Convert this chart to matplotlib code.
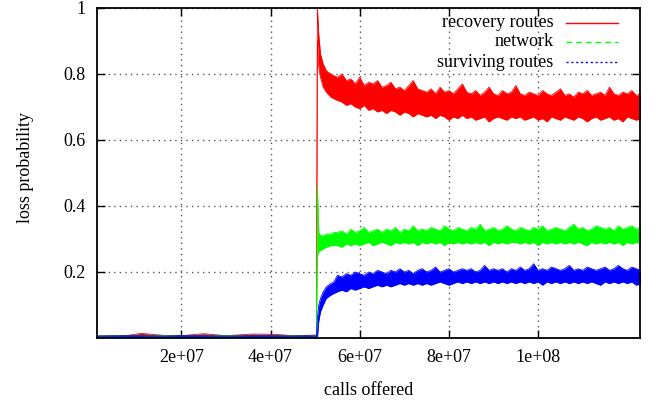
import matplotlib
matplotlib.use("Agg")
import matplotlib.pyplot as plt
import numpy as np

# calls offered, in millions of calls (envelope sample points)
calls = [1.1, 8, 11, 16, 20, 25, 30, 36, 41, 45, 48, 50.3,
         50.5, 50.8, 51.2, 51.8, 52.5, 53.5, 54.2,
         55, 56, 57, 58, 59, 60, 61, 62, 63, 64,
         65, 66, 67, 68, 69, 70, 71, 72, 73, 74,
         75, 76, 77, 78, 79, 80, 81, 82, 83, 84,
         85, 86, 87, 88, 89, 90, 91, 92, 93, 94,
         95, 96, 97, 98, 99, 100, 101, 102, 103, 104,
         105, 106, 107, 108, 109, 110, 111, 112, 113, 114,
         115, 116, 117, 118, 119, 120, 121, 122, 123]

# loss probability: upper and lower edge of each noisy trace
recovery_hi = [0.006, 0.008, 0.014, 0.008, 0.007, 0.013, 0.007, 0.012, 0.011, 0.007, 0.008, 0.009,
               1.0, 0.92, 0.86, 0.83, 0.81, 0.80, 0.795,
               0.79, 0.80, 0.78, 0.785, 0.77, 0.79, 0.765, 0.775, 0.77, 0.78,
               0.76, 0.765, 0.775, 0.755, 0.76, 0.75, 0.765, 0.78, 0.755, 0.75,
               0.745, 0.755, 0.74, 0.76, 0.745, 0.75, 0.74, 0.755, 0.77, 0.745,
               0.74, 0.75, 0.735, 0.745, 0.76, 0.74, 0.735, 0.75, 0.74, 0.745,
               0.765, 0.74, 0.735, 0.745, 0.74, 0.735, 0.75, 0.74, 0.735, 0.745,
               0.755, 0.735, 0.74, 0.73, 0.745, 0.74, 0.75, 0.735, 0.74, 0.745,
               0.735, 0.76, 0.74, 0.735, 0.745, 0.74, 0.75, 0.735, 0.74]
recovery_lo = [0.003, 0.003, 0.004, 0.003, 0.003, 0.004, 0.003, 0.003, 0.004, 0.003, 0.003, 0.003,
               0.90, 0.82, 0.79, 0.76, 0.745, 0.73, 0.725,
               0.72, 0.715, 0.705, 0.71, 0.70, 0.695, 0.705, 0.69, 0.695, 0.685,
               0.69, 0.68, 0.69, 0.685, 0.675, 0.685, 0.68, 0.67, 0.68, 0.675,
               0.67, 0.675, 0.665, 0.675, 0.67, 0.66, 0.67, 0.665, 0.675, 0.665,
               0.67, 0.66, 0.665, 0.67, 0.655, 0.665, 0.67, 0.665, 0.66, 0.67,
               0.665, 0.67, 0.66, 0.665, 0.67, 0.66, 0.665, 0.655, 0.67, 0.665,
               0.66, 0.67, 0.665, 0.66, 0.67, 0.665, 0.655, 0.665, 0.67, 0.66,
               0.665, 0.67, 0.66, 0.665, 0.655, 0.67, 0.665, 0.66, 0.665]

network_hi = [0.006, 0.007, 0.008, 0.007, 0.006, 0.008, 0.007, 0.007, 0.008, 0.006, 0.007, 0.007,
              0.46, 0.32, 0.31, 0.31, 0.315, 0.315, 0.32,
              0.32, 0.325, 0.315, 0.33, 0.32, 0.325, 0.335, 0.32, 0.325, 0.33,
              0.32, 0.33, 0.325, 0.335, 0.32, 0.33, 0.325, 0.34, 0.325, 0.33,
              0.325, 0.335, 0.33, 0.325, 0.34, 0.33, 0.325, 0.335, 0.33, 0.325,
              0.335, 0.33, 0.345, 0.325, 0.33, 0.335, 0.325, 0.33, 0.34, 0.33,
              0.325, 0.335, 0.33, 0.325, 0.335, 0.33, 0.34, 0.325, 0.33, 0.335,
              0.33, 0.325, 0.335, 0.345, 0.33, 0.335, 0.325, 0.33, 0.34, 0.335,
              0.33, 0.335, 0.325, 0.34, 0.33, 0.335, 0.34, 0.33, 0.335]
network_lo = [0.003, 0.003, 0.003, 0.003, 0.003, 0.003, 0.003, 0.003, 0.003, 0.003, 0.003, 0.003,
              0.25, 0.26, 0.265, 0.27, 0.275, 0.28, 0.28,
              0.28, 0.275, 0.285, 0.28, 0.285, 0.28, 0.285, 0.29, 0.28, 0.285,
              0.29, 0.285, 0.28, 0.29, 0.285, 0.29, 0.285, 0.29, 0.28, 0.29,
              0.285, 0.29, 0.285, 0.29, 0.28, 0.29, 0.285, 0.29, 0.285, 0.29,
              0.285, 0.29, 0.285, 0.29, 0.28, 0.29, 0.285, 0.29, 0.285, 0.29,
              0.29, 0.285, 0.29, 0.285, 0.29, 0.28, 0.29, 0.285, 0.29, 0.285,
              0.29, 0.285, 0.29, 0.285, 0.29, 0.285, 0.28, 0.29, 0.285, 0.29,
              0.285, 0.29, 0.285, 0.29, 0.28, 0.29, 0.285, 0.29, 0.285]

surviving_hi = [0.006, 0.007, 0.007, 0.006, 0.007, 0.007, 0.006, 0.007, 0.007, 0.006, 0.007, 0.006,
                0.06, 0.10, 0.12, 0.14, 0.155, 0.165, 0.17,
                0.19, 0.185, 0.195, 0.19, 0.2, 0.195, 0.19, 0.2, 0.195, 0.205,
                0.2, 0.195, 0.205, 0.2, 0.21, 0.2, 0.205, 0.195, 0.205, 0.21,
                0.2, 0.205, 0.215, 0.2, 0.205, 0.21, 0.2, 0.205, 0.21, 0.205,
                0.21, 0.2, 0.205, 0.22, 0.205, 0.21, 0.205, 0.21, 0.2, 0.21,
                0.205, 0.215, 0.205, 0.21, 0.225, 0.205, 0.21, 0.205, 0.215, 0.21,
                0.205, 0.21, 0.22, 0.205, 0.21, 0.205, 0.215, 0.21, 0.205, 0.21,
                0.215, 0.205, 0.21, 0.22, 0.21, 0.205, 0.215, 0.21, 0.205]
surviving_lo = [0.002, 0.002, 0.002, 0.002, 0.002, 0.002, 0.002, 0.002, 0.002, 0.002, 0.002, 0.002,
                0.0, 0.05, 0.08, 0.10, 0.12, 0.13, 0.135,
                0.14, 0.145, 0.14, 0.15, 0.145, 0.15, 0.155, 0.15, 0.155, 0.16,
                0.155, 0.16, 0.155, 0.16, 0.165, 0.16, 0.165, 0.16, 0.165, 0.16,
                0.165, 0.16, 0.165, 0.17, 0.165, 0.16, 0.165, 0.17, 0.165, 0.17,
                0.165, 0.17, 0.165, 0.17, 0.165, 0.17, 0.165, 0.17, 0.165, 0.17,
                0.165, 0.17, 0.165, 0.17, 0.165, 0.17, 0.16, 0.17, 0.165, 0.17,
                0.165, 0.17, 0.165, 0.17, 0.165, 0.17, 0.165, 0.17, 0.165, 0.16,
                0.17, 0.165, 0.17, 0.165, 0.17, 0.165, 0.17, 0.16, 0.165]

series = [
    ("recovery routes", recovery_hi, recovery_lo, "#ff0000", "-"),
    ("network", network_hi, network_lo, "#00ff00", (0, (4, 3))),
    ("surviving routes", surviving_hi, surviving_lo, "#0000ff", (0, (1.5, 2))),
]

xtick_vals = [2e7, 4e7, 6e7, 8e7, 1e8]
xtick_labels = ["2e+07", "4e+07", "6e+07", "8e+07", "1e+08"]
ytick_vals = [0.2, 0.4, 0.6, 0.8, 1.0]
ytick_labels = ["0.2", "0.4", "0.6", "0.8", "1"]

plt.rcParams["font.family"] = ["Liberation Serif", "DejaVu Serif"]
plt.rcParams["font.size"] = 13

fig = plt.figure(figsize=(6.56, 4.0), dpi=100)
ax = fig.add_axes([0.148, 0.155, 0.828, 0.825])

x = np.array(calls) * 1e6
for name, hi, lo, color, ls in series:
    ax.fill_between(x, lo, hi, color=color, linewidth=0, zorder=3)
    ax.plot(x, hi, color=color, lw=0.6, zorder=3)
    ax.plot(x, lo, color=color, lw=0.6, zorder=3)

ax.set_xlim(1.1e6, 1.229e8)
ax.set_ylim(0.0, 1.0)
ax.set_xticks(xtick_vals)
ax.set_xticklabels(xtick_labels)
ax.set_yticks(ytick_vals)
ax.set_yticklabels(ytick_labels)
ax.tick_params(direction="in", top=True, right=True, length=6, width=1, pad=8)
ax.grid(True, color="#555555", linestyle=(0, (1, 3)), lw=1)
for s in ax.spines.values():
    s.set_linewidth(1.3)
    s.set_zorder(5)

ax.set_xlabel("calls offered")
ax.set_ylabel("loss probability")
ax.yaxis.set_label_coords(-0.116, 0.518)
ax.xaxis.set_label_coords(0.5, -0.133)

# key in the top right corner, text right-aligned and sample to its right
rows_y = [0.955, 0.897, 0.836]
for (name, hi, lo, color, ls), yy in zip(series, rows_y):
    ax.text(0.840, yy, name, transform=ax.transAxes, ha="right", va="center", zorder=6)
    ax.plot([0.864, 0.959], [yy, yy], transform=ax.transAxes, color=color,
            lw=1, linestyle=ls, zorder=6)

fig.savefig("out.png", dpi=100)
